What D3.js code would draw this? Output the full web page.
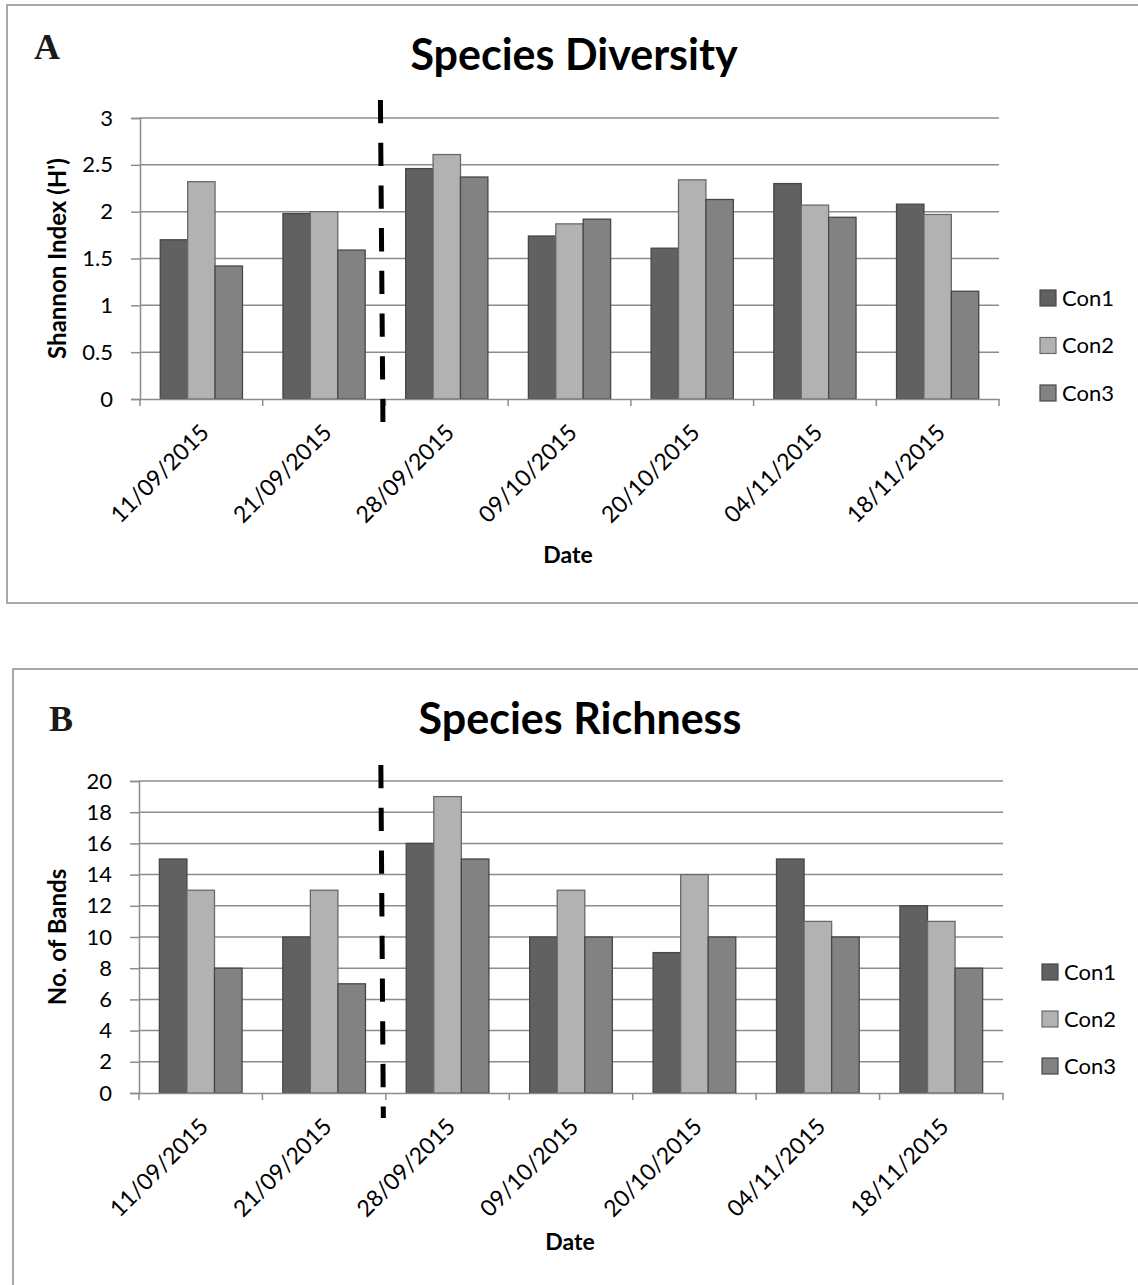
<!DOCTYPE html>
<html>
<head>
<meta charset="utf-8">
<script src="https://cdn.jsdelivr.net/npm/d3@7/dist/d3.min.js"></script>
<style>
  html, body { margin: 0; padding: 0; background: #fff; }
  svg { display: block; }
  text { font-family: Lato, "Open Sans", sans-serif; fill: #000; }
</style>
</head>
<body>
<svg id="chart" width="1138" height="1285"></svg>
<script>
// ---------- data ----------
const dates = ["11/09/2015", "21/09/2015", "28/09/2015", "09/10/2015", "20/10/2015", "04/11/2015", "18/11/2015"];
const seriesNames = ["Con1", "Con2", "Con3"];
const seriesColors = ["#616161", "#b2b2b2", "#828282"];

const diversityCon1 = [1.70, 1.98, 2.46, 1.74, 1.61, 2.30, 2.08];
const diversityCon2 = [2.32, 2.00, 2.61, 1.87, 2.34, 2.07, 1.97];
const diversityCon3 = [1.42, 1.59, 2.37, 1.92, 2.13, 1.94, 1.15];
const diversityTicks = [0, 0.5, 1, 1.5, 2, 2.5, 3];

const richnessCon1 = [15, 10, 16, 10, 9, 15, 12];
const richnessCon2 = [13, 13, 19, 13, 14, 11, 11];
const richnessCon3 = [8, 7, 15, 10, 10, 10, 8];
const richnessTicks = [0, 2, 4, 6, 8, 10, 12, 14, 16, 18, 20];

const svg = d3.select("#chart");

function drawPanel(cfg) {
  const g = svg.append("g");
  // panel border
  g.append("rect")
    .attr("x", cfg.border.x).attr("y", cfg.border.y)
    .attr("width", cfg.border.w).attr("height", cfg.border.h)
    .attr("fill", "none").attr("stroke", "#8c8c8c").attr("stroke-width", 1.5);

  // panel letter
  g.append("text")
    .attr("x", cfg.letter.x).attr("y", cfg.letter.y)
    .style("font-family", "'Liberation Serif', 'DejaVu Serif', serif")
    .style("font-weight", "bold").style("font-size", "36px")
    .style("fill", "#1a1a1a")
    .text(cfg.letterText);

  // title
  g.append("text")
    .attr("x", cfg.titleX).attr("y", cfg.titleY)
    .attr("text-anchor", "middle")
    .style("font-weight", "bold").style("font-size", "43px")
    .text(cfg.title);

  const x0 = cfg.plot.x0, x1 = cfg.plot.x1, yTop = cfg.plot.y0, yBot = cfg.plot.y1;
  const x = d3.scaleBand().domain(dates).range([x0, x1]).paddingInner(0.33).paddingOuter(0.165);
  const xs = d3.scaleBand().domain(seriesNames).range([0, x.bandwidth()]);
  const y = d3.scaleLinear().domain(cfg.domain).range([yBot, yTop]);
  const step = x.step();

  // gridlines
  g.append("g").selectAll("line").data(cfg.ticks.filter(t => t !== 0)).join("line")
    .attr("x1", x0).attr("x2", x1)
    .attr("y1", d => y(d)).attr("y2", d => y(d))
    .attr("stroke", "#8c8c8c").attr("stroke-width", 1.5);

  // y axis
  const yAxis = g.append("g").attr("transform", `translate(${x0},0)`)
    .call(d3.axisLeft(y).tickValues(cfg.ticks).tickSize(9).tickPadding(18).tickFormat(d3.format("")));
  yAxis.select(".domain").attr("stroke", "#8c8c8c").attr("stroke-width", 1.5);
  yAxis.selectAll(".tick line").attr("stroke", "#8c8c8c").attr("stroke-width", 1.5);
  yAxis.selectAll(".tick text").style("font-size", "22px").style("font-family", "Lato, sans-serif").attr("fill", "#000");

  // bars
  const seriesData = cfg.series;
  const groups = g.append("g").selectAll("g").data(dates).join("g")
    .attr("transform", d => `translate(${x(d)},0)`);
  groups.selectAll("rect").data((d, i) => seriesNames.map((s, k) => ({ s, k, v: seriesData[k][i] })))
    .join("rect")
    .attr("x", d => xs(d.s))
    .attr("width", xs.bandwidth())
    .attr("y", d => y(d.v))
    .attr("height", d => yBot - y(d.v))
    .attr("fill", d => seriesColors[d.k])
    .attr("stroke", d => d.k === 1 ? "#6a6a6a" : "#474747")
    .attr("stroke-width", 1.3);

  // x axis line
  const xAxis = g.append("g").attr("transform", `translate(0,${yBot})`)
    .call(d3.axisBottom(x).tickSize(0).tickPadding(0));
  xAxis.select(".domain").attr("stroke", "#8c8c8c").attr("stroke-width", 1.5);
  xAxis.selectAll(".tick text")
    .attr("text-anchor", "end")
    .attr("transform", `translate(9,35) rotate(-45)`)
    .attr("dy", "0")
    .style("font-size", "23px").style("font-family", "Lato, sans-serif").attr("fill", "#000");
  // x tick marks at category boundaries
  g.append("g").selectAll("line").data(d3.range(dates.length + 1)).join("line")
    .attr("x1", i => x0 + i * step).attr("x2", i => x0 + i * step)
    .attr("y1", yBot).attr("y2", yBot + 7)
    .attr("stroke", "#8c8c8c").attr("stroke-width", 1.5);

  // x axis title
  g.append("text")
    .attr("x", cfg.xTitleX).attr("y", cfg.xTitleY)
    .attr("text-anchor", "middle")
    .style("font-weight", "bold").style("font-size", "23px")
    .text("Date");

  // y axis title
  g.append("text")
    .attr("transform", `translate(${cfg.yTitleX},${(yTop + yBot) / 2}) rotate(-90)`)
    .attr("text-anchor", "middle")
    .style("font-weight", "bold").style("font-size", "24px")
    .text(cfg.yTitle);

  // dashed divider between 21/09 and 28/09
  const bx = x(dates[2]) - (step - x.bandwidth()) / 2;
  g.append("line")
    .attr("x1", bx - 5).attr("x2", bx - 2.5)
    .attr("y1", cfg.dash.y0).attr("y2", cfg.dash.y1)
    .attr("stroke", "#000").attr("stroke-width", 5)
    .attr("stroke-dasharray", "23.3 19.4");

  // legend
  const leg = g.append("g").selectAll("g").data(seriesNames).join("g")
    .attr("transform", (d, i) => `translate(${cfg.legend.x},${cfg.legend.y + i * cfg.legend.gap})`);
  leg.append("rect").attr("x", 0).attr("y", -8).attr("width", 16).attr("height", 16)
    .attr("fill", (d, i) => seriesColors[i])
    .attr("stroke", (d, i) => i === 1 ? "#6a6a6a" : "#474747").attr("stroke-width", 1.2);
  leg.append("text").attr("x", 22).attr("y", 0).attr("dy", "0.36em")
    .style("font-size", "22px").text(d => d);
}

drawPanel({
  border: { x: 7, y: 5, w: 1140, h: 598 },
  letter: { x: 34, y: 59 }, letterText: "A",
  title: "Species Diversity", titleX: 574, titleY: 70,
  plot: { x0: 140, x1: 999, y0: 118, y1: 399 },
  domain: [0, 3], ticks: diversityTicks,
  series: [diversityCon1, diversityCon2, diversityCon3],
  xTitleX: 568, xTitleY: 563,
  yTitle: "Shannon Index (H')", yTitleX: 66,
  dash: { y0: 100, y1: 422 },
  legend: { x: 1040, y: 298, gap: 47.5 }
});

drawPanel({
  border: { x: 13, y: 669, w: 1140, h: 640 },
  letter: { x: 49, y: 731 }, letterText: "B",
  title: "Species Richness", titleX: 580, titleY: 734,
  plot: { x0: 139, x1: 1003, y0: 781, y1: 1093 },
  domain: [0, 20], ticks: richnessTicks,
  series: [richnessCon1, richnessCon2, richnessCon3],
  xTitleX: 570, xTitleY: 1250,
  yTitle: "No. of Bands", yTitleX: 66,
  dash: { y0: 765, y1: 1118 },
  legend: { x: 1042, y: 972, gap: 47 }
});
</script>
</body>
</html>
